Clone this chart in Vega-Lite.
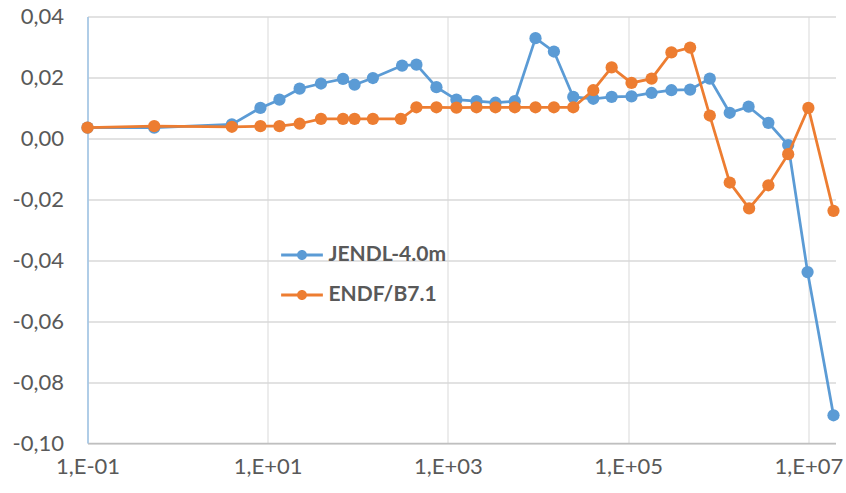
{
  "$schema": "https://vega.github.io/schema/vega-lite/v6.json",
  "autosize": {"type": "none"},
  "padding": {"left": 87.5, "top": 16.5, "right": 10.5, "bottom": 50},
  "width": 748,
  "height": 426.5,
  "background": "white",
  "config": {"view": {"stroke": null}},
  "data": {"values": [
    {"series": "JENDL-4.0m", "e": 0.1, "v": 0.0035},
    {"series": "JENDL-4.0m", "e": 0.55, "v": 0.0035},
    {"series": "JENDL-4.0m", "e": 4.0, "v": 0.0046},
    {"series": "JENDL-4.0m", "e": 8.3, "v": 0.0100},
    {"series": "JENDL-4.0m", "e": 13.5, "v": 0.0127},
    {"series": "JENDL-4.0m", "e": 22.6, "v": 0.0163},
    {"series": "JENDL-4.0m", "e": 39, "v": 0.0180},
    {"series": "JENDL-4.0m", "e": 68.5, "v": 0.0195},
    {"series": "JENDL-4.0m", "e": 92, "v": 0.0176},
    {"series": "JENDL-4.0m", "e": 147, "v": 0.0198},
    {"series": "JENDL-4.0m", "e": 310, "v": 0.0239},
    {"series": "JENDL-4.0m", "e": 447, "v": 0.0242},
    {"series": "JENDL-4.0m", "e": 745, "v": 0.0168},
    {"series": "JENDL-4.0m", "e": 1242, "v": 0.0127},
    {"series": "JENDL-4.0m", "e": 2075, "v": 0.0122},
    {"series": "JENDL-4.0m", "e": 3370, "v": 0.0117},
    {"series": "JENDL-4.0m", "e": 5520, "v": 0.0122},
    {"series": "JENDL-4.0m", "e": 9370, "v": 0.0329},
    {"series": "JENDL-4.0m", "e": 15000, "v": 0.0285},
    {"series": "JENDL-4.0m", "e": 24600, "v": 0.0136},
    {"series": "JENDL-4.0m", "e": 41000, "v": 0.0130},
    {"series": "JENDL-4.0m", "e": 65600, "v": 0.0136},
    {"series": "JENDL-4.0m", "e": 109000, "v": 0.0138},
    {"series": "JENDL-4.0m", "e": 182000, "v": 0.0149},
    {"series": "JENDL-4.0m", "e": 302000, "v": 0.0158},
    {"series": "JENDL-4.0m", "e": 487000, "v": 0.0160},
    {"series": "JENDL-4.0m", "e": 805000, "v": 0.0196},
    {"series": "JENDL-4.0m", "e": 1340000, "v": 0.0084},
    {"series": "JENDL-4.0m", "e": 2170000, "v": 0.0104},
    {"series": "JENDL-4.0m", "e": 3600000, "v": 0.0051},
    {"series": "JENDL-4.0m", "e": 5970000, "v": -0.0022},
    {"series": "JENDL-4.0m", "e": 9800000, "v": -0.0439},
    {"series": "JENDL-4.0m", "e": 19000000, "v": -0.0909},
    {"series": "ENDF/B7.1", "e": 0.1, "v": 0.0035},
    {"series": "ENDF/B7.1", "e": 0.55, "v": 0.0040},
    {"series": "ENDF/B7.1", "e": 4.0, "v": 0.0038},
    {"series": "ENDF/B7.1", "e": 8.3, "v": 0.0040},
    {"series": "ENDF/B7.1", "e": 13.5, "v": 0.0040},
    {"series": "ENDF/B7.1", "e": 22.6, "v": 0.0048},
    {"series": "ENDF/B7.1", "e": 39, "v": 0.0064},
    {"series": "ENDF/B7.1", "e": 68.5, "v": 0.0064},
    {"series": "ENDF/B7.1", "e": 92, "v": 0.0064},
    {"series": "ENDF/B7.1", "e": 147, "v": 0.0064},
    {"series": "ENDF/B7.1", "e": 300, "v": 0.0064},
    {"series": "ENDF/B7.1", "e": 447, "v": 0.0102},
    {"series": "ENDF/B7.1", "e": 745, "v": 0.0102},
    {"series": "ENDF/B7.1", "e": 1242, "v": 0.0101},
    {"series": "ENDF/B7.1", "e": 2075, "v": 0.0102},
    {"series": "ENDF/B7.1", "e": 3370, "v": 0.0102},
    {"series": "ENDF/B7.1", "e": 5520, "v": 0.0102},
    {"series": "ENDF/B7.1", "e": 9370, "v": 0.0102},
    {"series": "ENDF/B7.1", "e": 15000, "v": 0.0102},
    {"series": "ENDF/B7.1", "e": 24600, "v": 0.0102},
    {"series": "ENDF/B7.1", "e": 41000, "v": 0.0158},
    {"series": "ENDF/B7.1", "e": 65600, "v": 0.0233},
    {"series": "ENDF/B7.1", "e": 109000, "v": 0.0182},
    {"series": "ENDF/B7.1", "e": 182000, "v": 0.0196},
    {"series": "ENDF/B7.1", "e": 302000, "v": 0.0282},
    {"series": "ENDF/B7.1", "e": 487000, "v": 0.0298},
    {"series": "ENDF/B7.1", "e": 805000, "v": 0.0075},
    {"series": "ENDF/B7.1", "e": 1340000, "v": -0.0145},
    {"series": "ENDF/B7.1", "e": 2200000, "v": -0.0230},
    {"series": "ENDF/B7.1", "e": 3600000, "v": -0.0154},
    {"series": "ENDF/B7.1", "e": 5970000, "v": -0.0052},
    {"series": "ENDF/B7.1", "e": 10000000, "v": 0.0100},
    {"series": "ENDF/B7.1", "e": 19000000, "v": -0.0238}
  ]},
  "encoding": {
    "x": {
      "field": "e", "type": "quantitative",
      "scale": {"type": "log", "domain": [0.1, 20000000], "nice": false},
      "axis": {
        "title": null,
        "values": [0.1, 10, 1000, 100000, 10000000],
        "labelExpr": "'1,E' + (round(log(datum.value)/LN10) < 0 ? '-' : '+') + (abs(round(log(datum.value)/LN10)) < 10 ? '0' : '') + abs(round(log(datum.value)/LN10))",
        "labelFlush": false,
        "labelOverlap": false,
        "grid": true,
        "gridColor": "#D9D9D9",
        "gridWidth": 1,
        "domainColor": "#BFBFBF",
        "domainWidth": 1.5,
        "ticks": false,
        "labelFont": "Lato",
        "labelFontSize": 22,
        "labelColor": "#595959",
        "labelPadding": 13
      }
    },
    "y": {
      "field": "v", "type": "quantitative",
      "scale": {"domain": [-0.1, 0.04], "nice": false, "zero": false},
      "axis": {
        "title": null,
        "values": [-0.1, -0.08, -0.06, -0.04, -0.02, 0, 0.02, 0.04],
        "labelExpr": "replace(replace(format(datum.value, '.2f'), '.', ','), '\u2212', '-')",
        "grid": true,
        "gridColor": "#D9D9D9",
        "gridWidth": 1.5,
        "domainColor": "#9DC3E6",
        "domainWidth": 1.5,
        "ticks": false,
        "labelFont": "Lato",
        "labelFontSize": 22,
        "labelColor": "#595959",
        "labelPadding": 24
      }
    },
    "color": {
      "field": "series", "type": "nominal",
      "scale": {"domain": ["JENDL-4.0m", "ENDF/B7.1"], "range": ["#5B9BD5", "#ED7D31"]},
      "legend": {
        "title": null,
        "orient": "none",
        "legendX": 204,
        "legendY": 228,
        "padding": 0,
        "rowPadding": 18,
        "symbolType": "M-4.4,-0.3L4.4,-0.3L4.4,0.3L-4.4,0.3Z M1.05,0A1.05,1.05 0 1,1 -1.05,0A1.05,1.05 0 1,1 1.05,0Z",
        "symbolSize": 90,
        "symbolStrokeWidth": 0,
        "labelOffset": 16,
        "labelFont": "Lato",
        "labelFontSize": 21,
        "labelFontWeight": "bold",
        "labelColor": "#595959",
        "encode": {"symbols": {"update": {"fill": {"scale": "color", "field": "value"}, "stroke": {"value": "transparent"}, "opacity": {"value": 1}}}}
      }
    }
  },
  "layer": [
    {"transform": [{"filter": "datum.series === 'JENDL-4.0m'"}], "mark": {"type": "line", "strokeWidth": 2.75, "point": {"filled": true, "size": 150, "opacity": 1}}},
    {"transform": [{"filter": "datum.series === 'ENDF/B7.1'"}], "mark": {"type": "line", "strokeWidth": 2.75, "point": {"filled": true, "size": 150, "opacity": 1}}}
  ]
}
